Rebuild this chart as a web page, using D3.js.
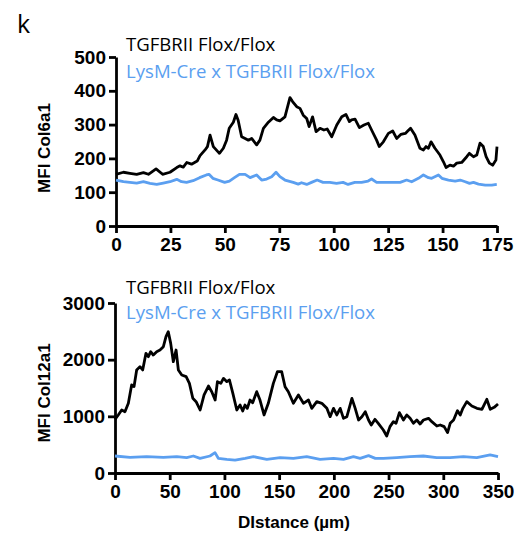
<!DOCTYPE html>
<html><head><meta charset="utf-8">
<script src="https://cdn.jsdelivr.net/npm/d3@7"></script>
<style>
body{margin:0;background:#fff;}
svg{display:block;}
</style></head>
<body>
<svg id="c" width="515" height="533"></svg>
<script>
// ---------- data ----------
const seriesNames = ["TGFBRII Flox/Flox", "LysM-Cre x TGFBRII Flox/Flox"];
const col6Ticks = [0, 100, 200, 300, 400, 500];
const col6DistTicks = [0, 25, 50, 75, 100, 125, 150, 175];
const col12Ticks = [0, 1000, 2000, 3000];
const col12DistTicks = [0, 50, 100, 150, 200, 250, 300, 350];

const col6Flox = [[0,153],[3.4,159],[6.4,156],[9.5,153],[12.6,158],[14.9,153],[18.4,169],[21.4,153],[24.8,159],[27.9,173],[29.4,178],[30.9,174],[32.5,188],[34.7,183],[37.3,192],[38.6,208],[40.9,225],[42,235],[43.2,269],[44.7,235],[47.5,215],[49.3,230],[50.8,254],[52,289],[53.9,307],[55.1,330],[56.1,313],[57.7,264],[59.3,259],[60.8,254],[62.3,259],[64.6,240],[66.1,254],[67.7,289],[70,307],[72.3,321],[73.8,314],[75.3,311],[77.6,323],[79.9,380],[81.1,368],[83,353],[84.5,348],[86,328],[87.6,318],[88.7,294],[90.3,323],[91.9,279],[93.7,289],[95.5,284],[97,287],[99.1,264],[101.4,299],[103.7,323],[105.6,330],[107.2,309],[108.2,314],[109.8,316],[111.8,291],[113.9,299],[115.9,304],[117.4,284],[119.7,254],[120.9,235],[122.8,249],[125.1,274],[127.1,281],[128.9,259],[130.8,271],[132.9,274],[134,281],[135.3,289],[137.3,269],[139.6,230],[141.2,225],[142.4,235],[143.5,230],[144.7,249],[146.5,230],[148.8,210],[150.4,190],[151.6,173],[153.4,180],[155,177],[156.5,186],[158.8,188],[161.1,205],[162.3,215],[164.2,205],[165.7,210],[167.2,245],[168.7,235],[170,205],[171.5,186],[173,180],[174.5,195],[175,235]];
const col6Cre = [[0,136],[3.4,131],[6.4,129],[9.5,127],[12.6,131],[15.6,126],[18.7,123],[21.7,127],[24.8,131],[27.9,138],[30.1,131],[32.4,129],[35.4,134],[38.4,143],[41.5,151],[42.7,153],[44.5,141],[46.8,136],[49.9,129],[52.1,133],[54.4,143],[56.7,153],[59.3,153],[61.6,143],[64.6,151],[66.9,136],[69.2,139],[71.5,146],[73.5,159],[75.3,146],[77.6,136],[81.4,129],[83.7,124],[85.2,128],[87.6,123],[89.8,129],[92.4,136],[95.1,129],[98.2,129],[101.3,126],[104.3,129],[106.6,123],[109.7,129],[112.8,129],[115.8,133],[117.4,139],[119.7,129],[123.6,129],[127.4,129],[130.5,129],[133.5,136],[135.8,131],[138.9,141],[141.2,151],[143.5,143],[145,141],[148.1,151],[149.7,141],[152.7,136],[155.8,133],[158.1,136],[160.4,131],[162.4,126],[164.2,129],[166.5,124],[169.6,121],[172.6,121],[174.9,123]];

const col12Flox = [[0,947],[3,1024],[6.1,1112],[9.1,1082],[12.2,1230],[15.2,1553],[17.4,1526],[19.8,1818],[22.8,1877],[25.3,1818],[28.3,2112],[30.5,2053],[32.6,2141],[35,2082],[38.1,2141],[41.1,2170],[44.2,2229],[46.6,2406],[48.7,2494],[50.9,2288],[53.3,1964],[55.8,2170],[57.9,1818],[61,1729],[65,1700],[68,1582],[71.1,1318],[74.1,1259],[77.8,1112],[81.4,1377],[85.4,1535],[88.4,1435],[91.5,1288],[93.6,1612],[96.7,1582],[99.1,1670],[102.2,1612],[104.6,1641],[107.7,1406],[111.3,1112],[114.3,1200],[116.7,1094],[118.8,1200],[120.9,1141],[123.4,1288],[125.8,1241],[129.5,1435],[132.5,1288],[136.2,1024],[140.1,1230],[144.7,1582],[148.4,1788],[152.3,1788],[155.4,1523],[158.4,1435],[163,1230],[167.6,1377],[172.2,1230],[176.8,1288],[179.8,1141],[184.4,1259],[189,1230],[193.6,1141],[196.6,994],[199.7,1141],[202.7,1024],[205.8,1141],[208.8,965],[211.9,994],[216.5,1318],[219.5,1141],[222.6,935],[225.6,994],[228.7,1082],[231.7,935],[234.2,847],[237.6,947],[240.6,877],[245.2,759],[248.3,653],[251.3,818],[254.4,906],[256.8,877],[259.9,1065],[263.6,935],[266.6,1024],[269.7,965],[272.7,877],[275.8,935],[278.8,865],[281.9,935],[286.5,965],[289.5,906],[294.1,829],[297.2,847],[300.8,818],[303.9,712],[306.3,877],[309.4,935],[313,1100],[315.5,1024],[317.9,1141],[321.5,1259],[326.1,1182],[330.7,1141],[335.3,1124],[339.8,1300],[342.9,1124],[346.5,1159],[350,1218]];
const col12Cre = [[0,300],[13.7,277],[28.9,288],[44.2,277],[56.4,288],[65.5,271],[71.6,300],[77.7,259],[86.8,300],[91.4,359],[94.4,259],[102.1,241],[109.7,229],[118.9,259],[126.5,288],[138.7,241],[150.9,271],[163,259],[175.2,288],[187.4,241],[199.7,259],[208.8,241],[217.9,288],[224,259],[231.7,306],[237.9,259],[245.2,259],[257.4,271],[269.6,288],[281.8,300],[294,271],[306.2,271],[318.4,288],[330.6,271],[342.8,318],[350,288]];

// ---------- drawing ----------
const svg = d3.select("#c");
const BLACK = "#000", BLUE = "#5b9ff0";
const tickFont = "bold 19px 'Liberation Sans', Arial, sans-serif";
const legFont = "18.6px 'Open Sans', sans-serif";

svg.append("text").attr("x", 17).attr("y", 33)
  .style("font", "25px 'Open Sans', sans-serif").text("k");

function panel(cfg) {
  const x = d3.scaleLinear().domain([0, cfg.xMax]).range([cfg.x0, cfg.x1]);
  const y = d3.scaleLinear().domain([0, cfg.yMax]).range([cfg.y0, cfg.y1]);
  const g = svg.append("g");
  const fmt = d3.format("d");

  const styleAxis = a => {
    a.selectAll("path,line").attr("stroke", "#000").attr("stroke-width", 2.8);
    a.selectAll("text").style("font", tickFont).attr("fill", "#000");
  };
  g.append("g").attr("transform", `translate(0,${cfg.y0})`)
    .call(d3.axisBottom(x).tickValues(cfg.xTicks).tickFormat(fmt).tickSize(7).tickSizeOuter(0).tickPadding(5))
    .call(styleAxis);
  g.append("g").attr("transform", `translate(${cfg.x0},0)`)
    .call(d3.axisLeft(y).tickValues(cfg.yTicks).tickFormat(fmt).tickSize(7).tickSizeOuter(0).tickPadding(3))
    .call(styleAxis);

  const line = d3.line().x(d => x(d[0])).y(d => y(d[1])).curve(d3.curveLinear);
  g.append("path").datum(cfg.cre).attr("d", line).attr("fill", "none")
    .attr("stroke", BLUE).attr("stroke-width", 2.8).attr("stroke-linejoin", "round");
  g.append("path").datum(cfg.flox).attr("d", line).attr("fill", "none")
    .attr("stroke", BLACK).attr("stroke-width", 2.8).attr("stroke-linejoin", "round");

  g.append("text").attr("transform", `translate(${cfg.yLabX},${cfg.yLabY}) rotate(-90)`)
    .attr("text-anchor", "middle").attr("dominant-baseline", "central")
    .style("font", "bold 17px 'Liberation Sans', Arial, sans-serif").text(cfg.yLabel);

  g.append("text").attr("x", cfg.legX).attr("y", cfg.leg1Y)
    .style("font", legFont).attr("fill", BLACK).text(seriesNames[0]);
  g.append("text").attr("x", cfg.legX).attr("y", cfg.leg2Y)
    .style("font", legFont).attr("fill", BLUE).text(seriesNames[1]);
}

panel({xMax: 175, yMax: 500, x0: 116, x1: 497, y0: 226, y1: 57,
  xTicks: col6DistTicks, yTicks: col6Ticks, flox: col6Flox, cre: col6Cre,
  yLabel: "MFI Col6a1", yLabX: 44, yLabY: 148, legX: 126, leg1Y: 51, leg2Y: 78});

panel({xMax: 350, yMax: 3000, x0: 115, x1: 498, y0: 473, y1: 303,
  xTicks: col12DistTicks, yTicks: col12Ticks, flox: col12Flox, cre: col12Cre,
  yLabel: "MFI Col12a1", yLabX: 44, yLabY: 393, legX: 126, leg1Y: 294, leg2Y: 319});

svg.append("text").attr("x", 294).attr("y", 528).attr("text-anchor", "middle")
  .style("font", "bold 17px 'Liberation Sans', Arial, sans-serif").text("DIstance (µm)");
</script>
</body></html>
